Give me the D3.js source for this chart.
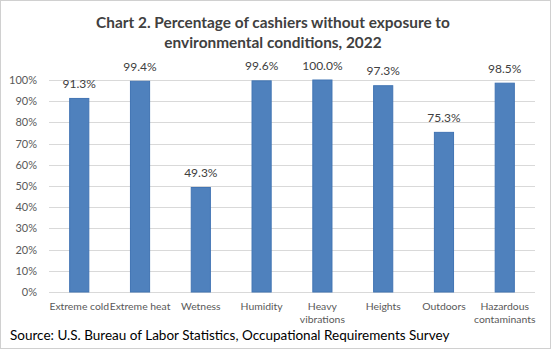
<!DOCTYPE html>
<html>
<head>
<meta charset="utf-8">
<script src="https://cdn.jsdelivr.net/npm/d3@7"></script>
<style>
    body { margin: 0; background: #fff; }
    svg { display: block; font-family: Lato, "Open Sans", sans-serif; }
</style>
</head>
<body>
<div id="chart"></div>
<script>

// chart data
const categories = ["Extreme cold", "Extreme heat", "Wetness", "Humidity", "Heavy vibrations", "Heights", "Outdoors", "Hazardous contaminants"];
const categoryLines = [["Extreme cold"], ["Extreme heat"], ["Wetness"], ["Humidity"], ["Heavy", "vibrations"], ["Heights"], ["Outdoors"], ["Hazardous", "contaminants"]];
const values = [91.3, 99.4, 49.3, 99.6, 100.0, 97.3, 75.3, 98.5];
const yTicks = [0, 10, 20, 30, 40, 50, 60, 70, 80, 90, 100];

const width = 551, height = 351;
const margin = {top: 80, right: 16, bottom: 59, left: 49};

let svg = d3.select("#chart").append("svg")
    .attr("width", width)
    .attr("height", height);

// outer border
svg.append("rect")
    .attr("x", 0.5).attr("y", 0.5)
    .attr("width", width - 1).attr("height", height - 3)
    .attr("fill", "#fff")
    .attr("stroke", "#d0d0d0");

// title
let title = svg.append("text")
    .attr("text-anchor", "middle")
    .attr("fill", "#404040")
    .style("font-size", "15.4px")
    .style("font-weight", "bold");
title.append("tspan").attr("x", 273).attr("y", 28).text("Chart 2. Percentage of cashiers without exposure to");
title.append("tspan").attr("x", 273).attr("y", 48).text("environmental conditions, 2022");

let x = d3.scaleBand()
    .domain(categories)
    .range([margin.left, width - margin.right])
    .paddingInner(0.685)
    .paddingOuter(0.34);

let y = d3.scaleLinear()
    .domain([0, 100])
    .range([height - margin.bottom, margin.top]);

// gridlines
svg.append("g")
    .selectAll("line")
    .data(yTicks)
    .enter().append("line")
    .attr("x1", margin.left)
    .attr("x2", width - margin.right)
    .attr("y1", d => Math.round(y(d)) + 0.5)
    .attr("y2", d => Math.round(y(d)) + 0.5)
    .attr("stroke", "#d9d9d9")
    .attr("stroke-width", 1);

// y axis labels
let yAxis = d3.axisLeft(y)
    .tickValues(yTicks)
    .tickSize(0)
    .tickPadding(12)
    .tickFormat(d => d + "%");

svg.append("g")
    .attr("transform", `translate(${margin.left}, 0)`)
    .call(yAxis)
    .call(g => g.select(".domain").remove())
    .call(g => g.selectAll("text")
        .attr("fill", "#595959")
        .style("font-size", "11px")
        .style("font-family", "Lato, sans-serif"));

// bars
svg.append("g")
    .selectAll("rect")
    .data(values)
    .enter().append("rect")
    .attr("x", (d, i) => x(categories[i]))
    .attr("y", d => y(d))
    .attr("width", x.bandwidth())
    .attr("height", d => y(0) - y(d))
    .attr("fill", "#4f81bd")
    .attr("stroke", "#4174b3")
    .attr("stroke-width", 1);

// data labels
svg.append("g")
    .selectAll("text")
    .data(values)
    .enter().append("text")
    .attr("x", (d, i) => x(categories[i]) + x.bandwidth() / 2)
    .attr("y", d => y(d) - 10.5)
    .attr("text-anchor", "middle")
    .attr("fill", "#404040")
    .style("font-size", "12px")
    .text(d => d.toFixed(1) + "%");

// category labels
let catLabels = svg.append("g")
    .selectAll("text")
    .data(categoryLines)
    .enter().append("text")
    .attr("text-anchor", "middle")
    .attr("fill", "#595959")
    .style("font-size", "10.4px");

catLabels.selectAll("tspan")
    .data((d, i) => d.map(line => ({line, i})))
    .enter().append("tspan")
    .attr("x", d => x(categories[d.i]) + x.bandwidth() / 2)
    .attr("y", (d, j) => 310 + j * 13)
    .text(d => d.line);

// source
svg.append("text")
    .attr("x", 10)
    .attr("y", 340)
    .attr("fill", "#000")
    .style("font-size", "13.5px")
    .text("Source: U.S. Bureau of Labor Statistics, Occupational Requirements Survey");

</script>
</body>
</html>
